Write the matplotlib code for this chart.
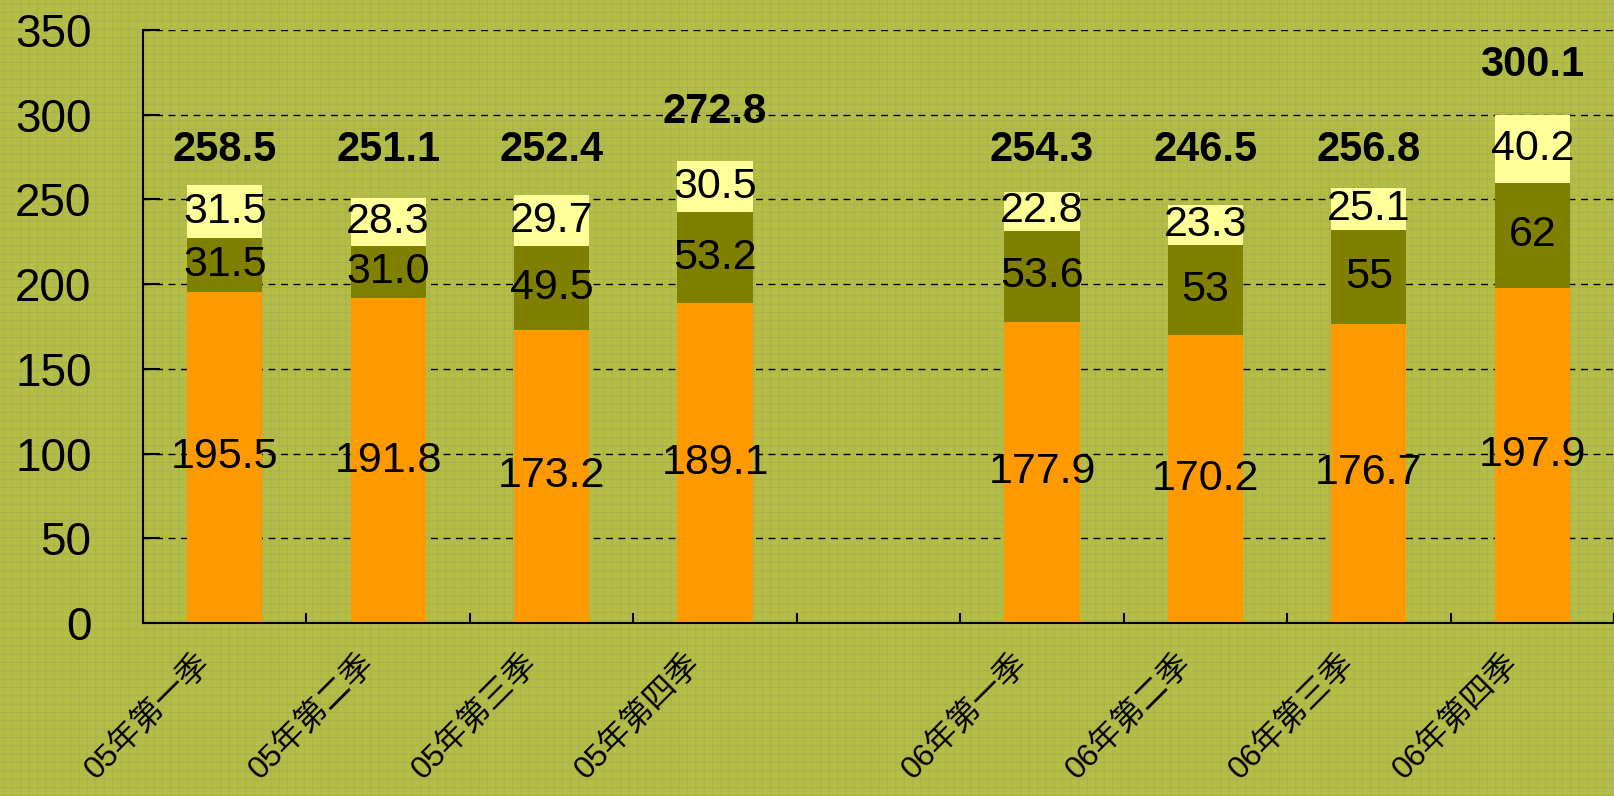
import numpy as np
import matplotlib.pyplot as plt
from matplotlib.transforms import ScaledTranslation

# quarterly data (index 4 is the empty gap slot)
quarters = ['05年第一季', '05年第二季', '05年第三季', '05年第四季', '',
            '06年第一季', '06年第二季', '06年第三季', '06年第四季']
bottom_vals = [195.5, 191.8, 173.2, 189.1, np.nan, 177.9, 170.2, 176.7, 197.9]
mid_vals = [31.5, 31.0, 49.5, 53.2, np.nan, 53.6, 53, 55, 62]
top_vals = [31.5, 28.3, 29.7, 30.5, np.nan, 22.8, 23.3, 25.1, 40.2]
bottom_labels = ['195.5', '191.8', '173.2', '189.1', '', '177.9', '170.2', '176.7', '197.9']
mid_labels = ['31.5', '31.0', '49.5', '53.2', '', '53.6', '53', '55', '62']
top_labels = ['31.5', '28.3', '29.7', '30.5', '', '22.8', '23.3', '25.1', '40.2']
total_labels = ['258.5', '251.1', '252.4', '272.8', '', '254.3', '246.5', '256.8', '300.1']

bg = '#b5be44'
plt.rcParams['hatch.linewidth'] = 0.6
fig = plt.figure(figsize=(16.14, 7.96), dpi=100)
fig.patch.set_facecolor(bg)
fig.patch.set_edgecolor('#a8ae58')
fig.patch.set_hatch('++')
ax = fig.add_axes([0.0886, 0.2173, 0.9114, 0.745])
ax.patch.set_alpha(0)

x = np.arange(len(quarters))
b = np.array(bottom_vals)
m = np.array(mid_vals)
t = np.array(top_vals)
w = 0.46
ax.bar(x, b, w, color='#ff9900', zorder=2)
ax.bar(x, m, w, bottom=b, color='#808000', zorder=2)
ax.bar(x, t, w, bottom=b + m, color='#ffff99', zorder=2)

font = 'Liberation Sans'
for i in range(len(quarters)):
    if not quarters[i]:
        continue
    ax.text(x[i], b[i] / 2, bottom_labels[i], ha='center', va='center', fontsize=31, family=font, zorder=3)
    ax.text(x[i], b[i] + m[i] / 2, mid_labels[i], ha='center', va='center', fontsize=31, family=font, zorder=3)
    ax.text(x[i], b[i] + m[i] + t[i] / 2, top_labels[i], ha='center', va='center', fontsize=31, family=font, zorder=3)
    total = b[i] + m[i] + t[i]
    ty = 279 if total < 265 else total + 29
    ax.text(x[i], ty, total_labels[i], ha='center', va='center', fontsize=30, fontweight='bold', family=font, zorder=3)

ax.set_ylim(0, 350)
ax.set_yticks(np.arange(0, 351, 50))
ax.set_xlim(-0.5, 8.43)
ax.set_axisbelow(True)
ax.yaxis.grid(True, color='black', linestyle=(0, (5, 4)), linewidth=1)

ax.set_xticks(np.arange(-0.5, 9, 1))
ax.set_xticklabels([])
ax.set_xticks(x, minor=True)
ax.set_xticklabels(quarters, minor=True, rotation=45, ha='right', va='center',
                   rotation_mode='anchor', fontsize=23, family=['Liberation Sans', 'Noto Sans CJK SC'])
ax.tick_params(axis='x', which='major', direction='in', length=7, width=1.5)
ax.tick_params(axis='x', which='minor', length=0, pad=26)
ax.tick_params(axis='y', direction='in', length=12, width=1.5, pad=37, labelsize=33)
for lab in ax.get_yticklabels():
    lab.set_family(font)
off = ScaledTranslation(-0.18, 0, fig.dpi_scale_trans)
for lab in ax.get_xticklabels(minor=True):
    lab.set_transform(lab.get_transform() + off)

for s in ['top', 'right']:
    ax.spines[s].set_visible(False)
ax.spines['left'].set_linewidth(1.5)
ax.spines['bottom'].set_linewidth(1.5)

fig.savefig('out.png', dpi=100, facecolor=fig.get_facecolor())
